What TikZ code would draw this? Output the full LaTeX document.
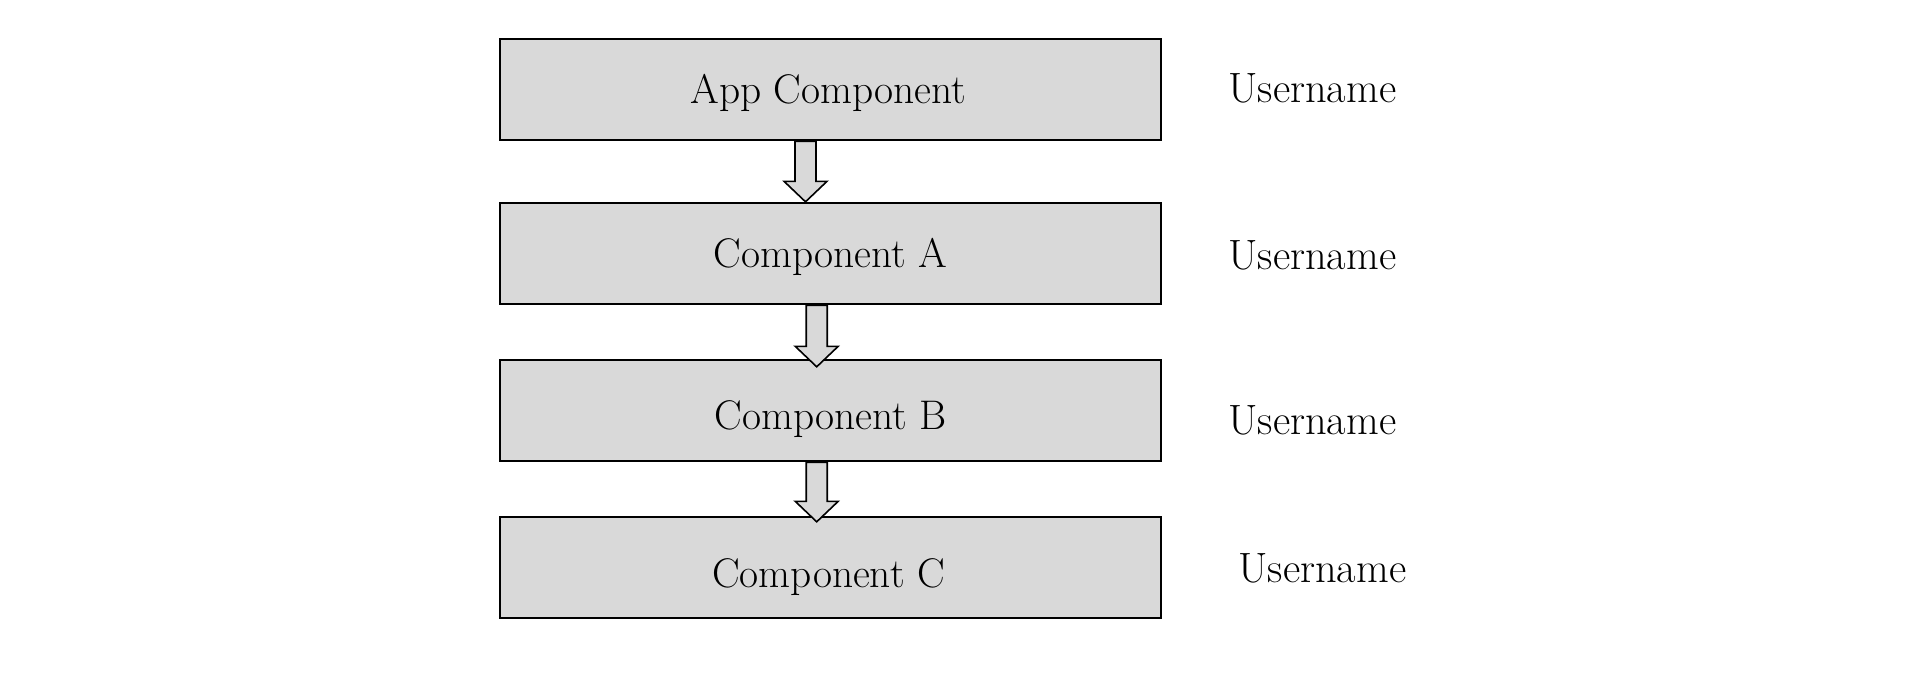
\documentclass[tikz,border=0pt]{standalone}
\usetikzlibrary{calc}
\definecolor{boxgray}{HTML}{D9D9D9}
\tikzset{
  compbox/.style={draw=black, line width=1.2pt, fill=boxgray, rectangle,
    minimum width=330.5pt, minimum height=50.5pt, inner sep=0pt},
  boxtext/.style={inner sep=0pt, font=\fontsize{20.7}{25}\selectfont},
  userlabel/.style={anchor=west, inner sep=0pt, font=\fontsize{21.2}{25}\selectfont},
  blockarr/.style={draw=black, line width=0.8pt, fill=boxgray, line join=miter}
}
% #1 = x in px, #2 = from node, #3 = to node, #4 = tip overlap in px
\newcommand\blockarrow[4]{%
  \draw[blockarr] let \p1=(#2.south), \p2=(#3.north) in
    ({#1*0.5pt-5.25pt},\y1) -- ({#1*0.5pt+5.25pt},\y1)
    -- ({#1*0.5pt+5.25pt},{\y2-#4*0.5pt+10.25pt})
    -- ({#1*0.5pt+10.75pt},{\y2-#4*0.5pt+10.25pt})
    -- ({#1*0.5pt},{\y2-#4*0.5pt})
    -- ({#1*0.5pt-10.75pt},{\y2-#4*0.5pt+10.25pt})
    -- ({#1*0.5pt-5.25pt},{\y2-#4*0.5pt+10.25pt}) -- cycle;}
\begin{document}
\begin{tikzpicture}[x=0.5pt,y=-0.5pt]
\useasboundingbox (0,0) rectangle (1920,686);
\node[compbox] (b1) at (830.5,89.5) {};
\node[compbox] (b2) at (830.5,253.5) {};
\node[compbox] (b3) at (830.5,410.5) {};
\node[compbox] (b4) at (830.5,567.5) {};
\node[boxtext] (t1) at ($(b1.center)+(-2,3.5)$) {App Component};
\node[boxtext] (t2) at ($(b2.center)+(0,3.5)$) {Component A};
\node[boxtext] (t3) at ($(b3.center)+(0,9)$) {Component B};
\node[boxtext] (t4) at ($(b4.center)+(-2,10)$) {Component C};
\node[userlabel] (u1) at (1228,88) {Username};
\node[userlabel] (u2) at (1228,255) {Username};
\node[userlabel] (u3) at (1228,420) {Username};
\node[userlabel] (u4) at (1238,568) {Username};
\blockarrow{805.5}{b1}{b2}{0}
\blockarrow{816.7}{b2}{b3}{8}
\blockarrow{816.7}{b3}{b4}{6}
\end{tikzpicture}
\end{document}
